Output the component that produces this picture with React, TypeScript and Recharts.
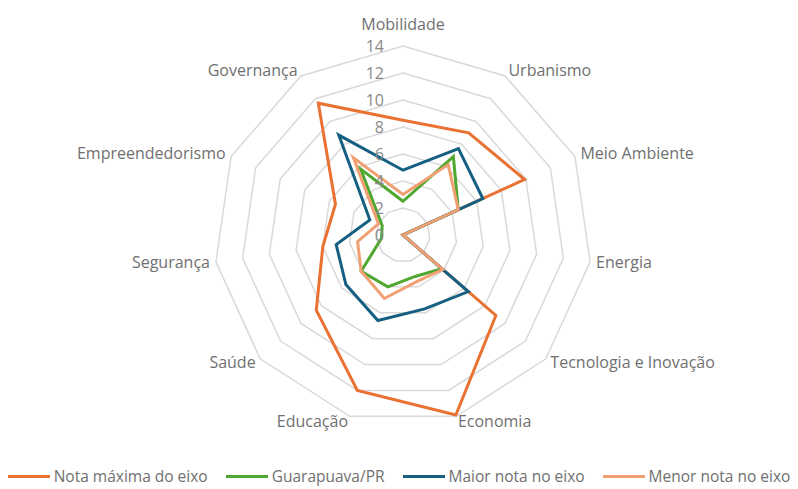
import React from 'react';
import {
  RadarChart, Radar, PolarGrid, PolarAngleAxis, PolarRadiusAxis, Legend,
} from 'recharts';

const EIXOS = [
  'Mobilidade', 'Urbanismo', 'Meio Ambiente', 'Energia', 'Tecnologia e Inovação',
  'Economia', 'Educação', 'Saúde', 'Segurança', 'Empreendedorismo', 'Governança',
];

const NOTA_MAXIMA = [8.5, 9.0, 9.9, 0, 9.1, 13.9, 12.0, 8.5, 6.0, 5.5, 11.6];
const GUARAPUAVA = [2.5, 6.9, 4.5, 0, 3.8, 3.2, 4.0, 4.1, 1.6, 1.7, 5.8];
const MAIOR_NOTA = [4.8, 7.6, 6.5, 0, 6.4, 5.7, 6.6, 5.6, 5.0, 2.7, 8.8];
const MENOR_NOTA = [3.0, 6.2, 4.5, 0, 3.9, 3.6, 4.9, 4.1, 3.4, 2.0, 6.8];

const RADIUS_TICKS = [0, 2, 4, 6, 8, 10, 12, 14];

const SERIES = [
  { key: 'max', name: 'Nota máxima do eixo', color: '#E97132' },
  { key: 'guarapuava', name: 'Guarapuava/PR', color: '#4EA72E' },
  { key: 'maior', name: 'Maior nota no eixo', color: '#156082' },
  { key: 'menor', name: 'Menor nota no eixo', color: '#F1A074' },
];

const data = EIXOS.map((eixo, i) => ({
  eixo,
  max: NOTA_MAXIMA[i],
  guarapuava: GUARAPUAVA[i],
  maior: MAIOR_NOTA[i],
  menor: MENOR_NOTA[i],
}));

const FONT = '"Open Sans", sans-serif';

function AngleTick(props: any) {
  const { x, y, cy, payload, textAnchor } = props;
  let dy = 5;
  if (textAnchor === 'middle') dy = y < cy ? -10 : 14;
  return (
    <text x={x} y={y} dy={dy} textAnchor={textAnchor} fontSize={16} fill="#707070" fontFamily={FONT}>
      {payload.value}
    </text>
  );
}

function RadiusTick(props: any) {
  const { x, y, payload } = props;
  return (
    <text x={x - 19} y={y} dy={6} textAnchor="end" fontSize={16} fill="#8a8a8a" fontFamily={FONT}>
      {payload.value}
    </text>
  );
}

function LegendContent() {
  return (
    <div style={{ display: 'flex', justifyContent: 'center', gap: 18, fontFamily: FONT, fontSize: 15.5, color: '#707070' }}>
      {SERIES.map((s) => (
        <div key={s.key} style={{ display: 'flex', alignItems: 'center' }}>
          <span style={{ display: 'inline-block', width: 42, height: 3, background: s.color, marginRight: 4 }} />
          <span>{s.name}</span>
        </div>
      ))}
    </div>
  );
}

export default function App() {
  return (
    <div style={{ position: 'absolute', left: 0, top: 0, background: '#fff' }}>
      <RadarChart
        width={798}
        height={489}
        data={data}
        cx={403}
        cy={235}
        outerRadius={189}
        startAngle={90}
        endAngle={-270}
        margin={{ top: 0, right: 0, bottom: 0, left: 0 }}
      >
        <PolarGrid gridType="polygon" radialLines={false} stroke="#d9d9d9" strokeWidth={1.5} />
        <PolarAngleAxis dataKey="eixo" tick={<AngleTick />} tickLine={false} axisLine={false} tickSize={6} />
        <PolarRadiusAxis
          angle={90}
          domain={[0, 14]}
          ticks={RADIUS_TICKS as any}
          tickCount={RADIUS_TICKS.length}
          axisLine={false}
          tickLine={false}
          tick={<RadiusTick />}
        />
        {SERIES.map((s) => (
          <Radar
            key={s.key}
            name={s.name}
            dataKey={s.key}
            stroke={s.color}
            strokeWidth={3}
            fill="none"
            fillOpacity={0}
            dot={false}
            isAnimationActive={false}
          />
        ))}
        <Legend verticalAlign="bottom" content={<LegendContent />} wrapperStyle={{ bottom: 2 }} />
      </RadarChart>
    </div>
  );
}
